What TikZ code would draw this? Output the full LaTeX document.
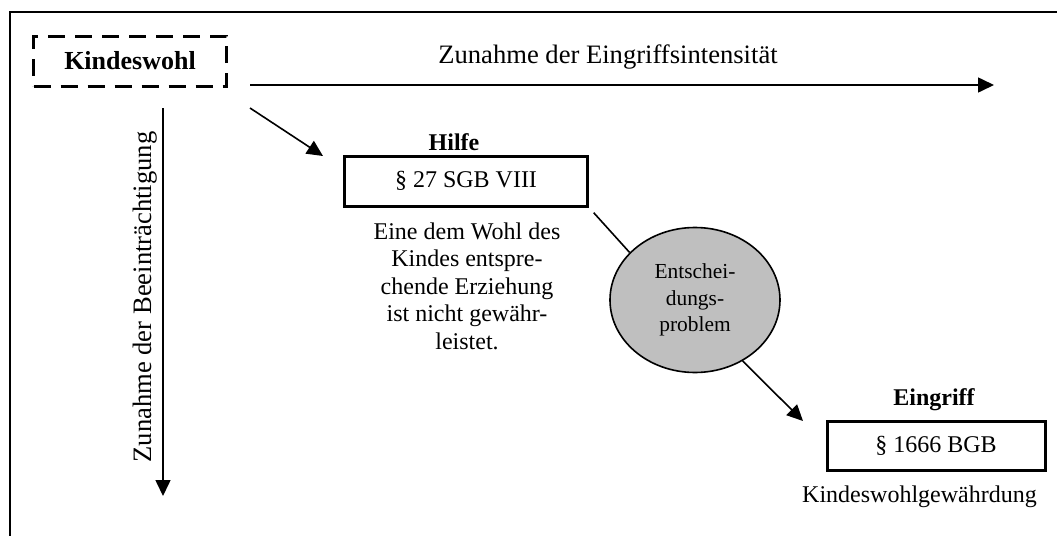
\documentclass[tikz,border=0pt]{standalone}
\usepackage{fontspec}
\setmainfont{Liberation Serif}
\usepackage{tikz}
\usetikzlibrary{arrows.meta}
\usetikzlibrary{shapes.geometric}
\tikzset{>={Triangle[length=8pt,width=7.5pt]}}
\tikzstyle{lawbox} = [rectangle, draw=black, line width=1.5pt, inner sep=0pt]
\tikzstyle{txt} = [font=\fontsize{12}{13.75}\selectfont, inner sep=0pt]
\tikzstyle{lbl} = [font=\fontsize{12}{13.75}\selectfont\bfseries, inner sep=0pt]
\tikzstyle{axis} = [font=\fontsize{13.3}{15}\selectfont, inner sep=0pt]
\newcommand{\kwsize}{\fontsize{13}{15}\selectfont}

\begin{document}
\begin{tikzpicture}[x=0.5pt, y=-0.5pt]
\useasboundingbox (0, 0) rectangle (1057, 536);
\draw [line width=1pt] (9.5, 540) -- (9.5, 12) -- (1060, 12);
\node [rectangle, draw=black, dashed, line width=1.5pt, dash pattern=on 8.5pt off 5pt, minimum width=96.5pt, minimum height=25pt, font=\kwsize\bfseries] (KW) at (130, 61) {Kindeswohl};
\node [axis] (EI) at (608, 57) {Zunahme der Eingriffsintensität};
\node [axis, rotate=90] (BE) at (145, 297) {Zunahme der Beeinträchtigung};
\node [lbl] (HL) at (454, 142) {Hilfe};
\node [lawbox, minimum width=121.5pt, minimum height=25pt, txt] (HB) at (466, 181) {§ 27 SGB VIII};
\node [txt, align=center] (HT) at (467, 286) {Eine dem Wohl des\\Kindes entspre-\\chende Erziehung\\ist nicht gewähr-\\leistet.};
\node [ellipse, draw=black, line width=0.8pt, fill=black!25, minimum width=85pt, minimum height=72.5pt, inner sep=0pt, align=center, font=\fontsize{10.7}{13.2}\selectfont] (EP) at (695, 300) {Entschei-\\dungs-\\problem};
\node [lbl] (GL) at (934, 400) {Eingriff};
\node [lawbox, minimum width=109pt, minimum height=24.5pt, txt] (GB) at (936, 446) {§ 1666 BGB};
\node [txt] (GT) at (919.5, 497) {Kindeswohlgewährdung};
\coordinate (h0) at (250, 85);
\coordinate (h1) at (994, 85);
\coordinate (v0) at (163, 108);
\coordinate (v1) at (163, 496);
\coordinate (d0) at (250, 108);
\coordinate (d1) at (323, 156);
\coordinate (e1) at (803, 421);
\draw [->, line width=0.8pt] (h0) -- (h1);
\draw [->, line width=0.8pt] (v0) -- (v1);
\draw [->, line width=0.8pt] (d0) -- (d1);
\draw [line width=0.8pt, shorten <=3.5pt] (HB.south east) -- (EP.144);
\draw [->, line width=0.8pt] (EP.-52) -- (e1);
\end{tikzpicture}
\end{document}
